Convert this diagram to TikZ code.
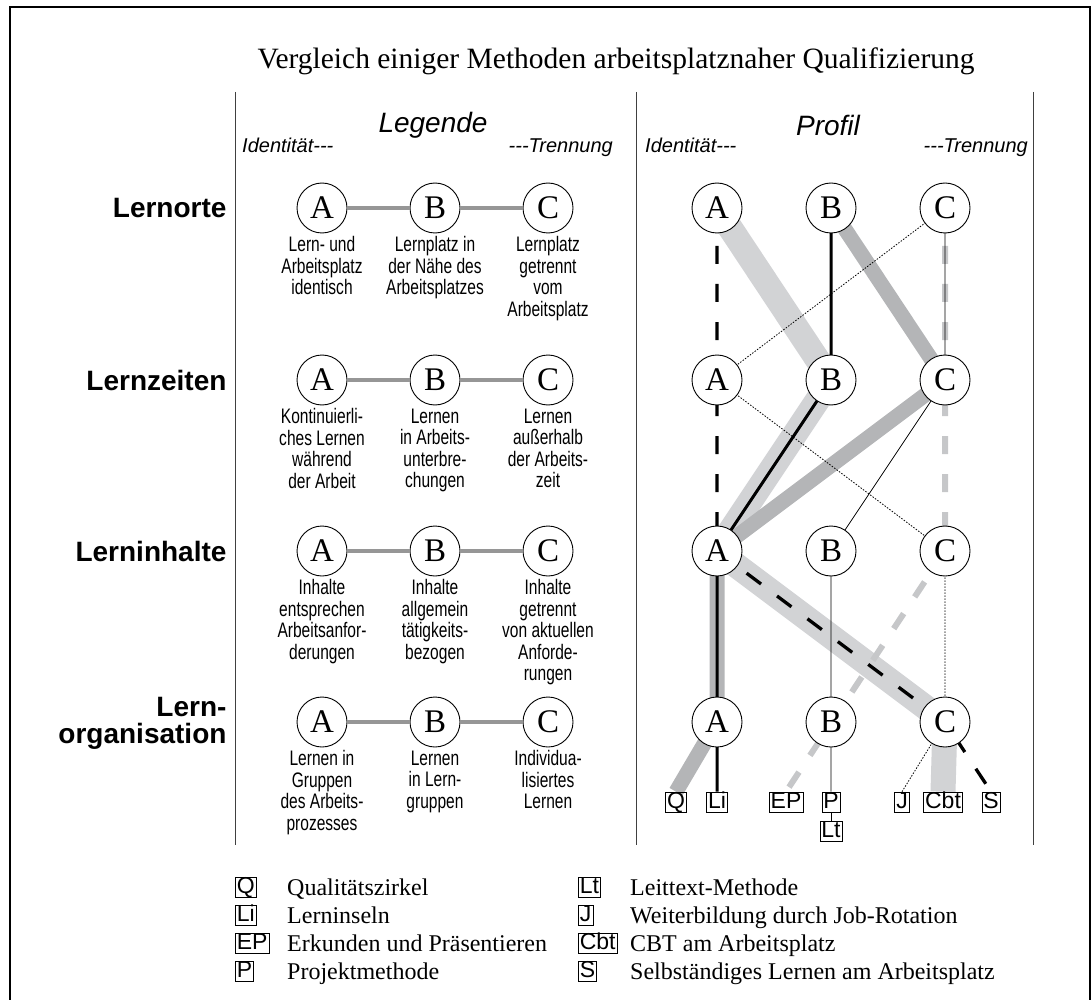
\documentclass[tikz,border=0pt]{standalone}
\usepackage{fontspec}
\setmainfont{Liberation Serif}
\setsansfont{Liberation Sans}
\newfontfamily\schmalsans[FakeStretch=0.74]{Liberation Sans}
\usepackage{tikz}
\usetikzlibrary{positioning}
\pgfdeclarelayer{hinten}
\pgfsetlayers{hinten,main}

\definecolor{hellband}{RGB}{210,211,213}
\definecolor{mittelband}{RGB}{180,181,183}
\definecolor{hellstrich}{RGB}{198,199,201}
\definecolor{legstrich}{RGB}{150,150,150}

\newcommand{\dreistrich}{-\kern0pt-\kern0pt-}

\tikzset{
	stufe/.style = {circle, draw, fill=white, minimum size=50pt, inner sep=0pt, line width=0.9pt, font=\fontsize{33}{33}\selectfont},
	beschr/.style = {align=center, inner sep=0pt, font=\schmalsans\fontsize{21}{21.5}\selectfont},
	zeile/.style = {anchor=east, align=right, font=\sffamily\bfseries\fontsize{28}{27}\selectfont},
	kopf/.style = {font=\sffamily\itshape\fontsize{28}{28}\selectfont},
	pol/.style = {font=\sffamily\itshape\fontsize{20}{20}\selectfont, inner sep=0pt},
	methode/.style = {draw, line width=0.6pt, inner sep=1.5pt, text height=15pt, text depth=2pt, font=\sffamily\fontsize{23}{23}\selectfont},
	erkl/.style = {anchor=base west, inner sep=0pt, font=\fontsize{24}{24}\selectfont},
	trenn/.style = {draw=black!75, line width=1pt}
}

\begin{document}
\begin{tikzpicture}[x=1pt, y=-1pt]
	\useasboundingbox (0,0) rectangle (1092,1000);
	\draw [line width=2.5pt] (10,1010) -- (10,7) -- (1090,7) -- (1090,1010);

	\node [font=\fontsize{29.5}{29.5}\selectfont] (titel) at (616,61) {Vergleich einiger Methoden arbeitsplatznaher Qualifizierung};

	\draw [trenn] (235,92) -- (235,845);
	\draw [trenn] (636,92) -- (636,845);
	\draw [trenn] (1033,92) -- (1033,845);

	% Kopfzeilen
	\node [kopf] (legende) at (433,125) {Legende};
	\node [pol, anchor=base west] (identL) at (242,153) {Identität\dreistrich};
	\node [pol, anchor=base east] (trennL) at (613,153) {\dreistrich Trennung};
	\node [kopf] (profil) at (828,125) {Profil};
	\node [pol, anchor=base west] (identP) at (645,153) {Identität\dreistrich};
	\node [pol, anchor=base east] (trennP) at (1028,153) {\dreistrich Trennung};

	\node [zeile] (orte) at (230,208) {Lernorte};
	\node [zeile] (zeiten) at (230,380) {Lernzeiten};
	\node [zeile] (inhalte) at (230,551) {Lerninhalte};
	\node [zeile] (organisation) at (230,723) {Lern-\\organisation};

	% Kreise
	\foreach \z/\y in {1/208, 2/380, 3/551, 4/722} {
		\foreach \s/\x in {A/322, B/435, C/548}
			\node [stufe] (l\s\z) at (\x,\y) {\s};
		\foreach \s/\x in {A/717, B/831, C/945}
			\node [stufe] (p\s\z) at (\x,\y) {\s};
		\draw [legstrich, line width=4pt] (lA\z) -- (lB\z);
		\draw [legstrich, line width=4pt] (lB\z) -- (lC\z);
	}

	\node [beschr, below=3pt of lA1] (dA1) {Lern- und\\Arbeitsplatz\\identisch};
	\node [beschr, below=3pt of lB1] (dB1) {Lernplatz in\\der Nähe des\\Arbeitsplatzes};
	\node [beschr, below=3pt of lC1] (dC1) {Lernplatz\\getrennt\\vom\\Arbeitsplatz};
	\node [beschr, below=3pt of lA2] (dA2) {Kontinuierli-\\ches Lernen\\während\\der Arbeit};
	\node [beschr, below=3pt of lB2] (dB2) {Lernen\\in Arbeits-\\unterbre-\\chungen};
	\node [beschr, below=3pt of lC2] (dC2) {Lernen\\außerhalb\\der Arbeits-\\zeit};
	\node [beschr, below=3pt of lA3] (dA3) {Inhalte\\entsprechen\\Arbeitsanfor-\\derungen};
	\node [beschr, below=3pt of lB3] (dB3) {Inhalte\\allgemein\\tätigkeits-\\bezogen};
	\node [beschr, below=3pt of lC3] (dC3) {Inhalte\\getrennt\\von aktuellen\\Anforde-\\rungen};
	\node [beschr, below=3pt of lA4] (dA4) {Lernen in\\Gruppen\\des Arbeits-\\prozesses};
	\node [beschr, below=3pt of lB4] (dB4) {Lernen\\in Lern-\\gruppen};
	\node [beschr, below=3pt of lC4] (dC4) {Individua-\\lisiertes\\Lernen};

	% Methoden im Profil
	\node [methode] (mQ) at (676,802) {Q};
	\node [methode] (mLi) at (717,802) {Li};
	\node [methode] (mEP) at (786,802) {EP};
	\node [methode] (mP) at (831,802) {P};
	\node [methode] (mLt) at (831,831) {Lt};
	\node [methode] (mJ) at (902,802) {J};
	\node [methode] (mCbt) at (943,802) {Cbt};
	\node [methode] (mS) at (991,802) {S};
	\draw [line width=0.8pt] (mP) -- (mLt);

	\begin{pgfonlayer}{hinten}
		\draw [hellband, line width=25pt, line join=round] (pA1.center) -- (pB2.center) -- (pA3.center) -- (pC4.center) -- (mCbt.north);
		\draw [mittelband, line width=15pt, line join=round] (pB1.center) -- (pC2.center) -- (pA3.center) -- (pA4.center) -- (mQ.north);
		\draw [hellstrich, line width=6pt, dash pattern=on 18pt off 20pt] (pC1.center) -- (pC2.center) -- (pC3.center) -- (mEP.north);
		\draw [line width=3pt, line join=round] (pB1.center) -- (pB2.center) -- (pA3.center) -- (pA4.center) -- (mLi.north);
		\draw [line width=3.3pt, dash pattern=on 18pt off 20pt] (pA1.center) -- (pA2.center) -- (pA3.center) -- (pC4.center) -- (mS.north);
		\draw [line width=0.8pt] (pC1.center) -- (pC2.center) -- (pB3.center) -- (pB4.center) -- (mP.north);
		\draw [line width=0.8pt, dash pattern=on 1.5pt off 1.5pt] (pC1.center) -- (pA2.center) -- (pC3.center) -- (pC4.center) -- (mJ.north);
	\end{pgfonlayer}

	% Erklaerung der Kuerzel
	\foreach \k/\t [count=\i] in {Q/Qualitätszirkel, Li/Lerninseln, EP/Erkunden und Präsentieren, P/Projektmethode} {
		\node [methode, anchor=west] (k\k) at (235,859+28*\i) {\k};
		\node [erkl] (t\k) at (287,867+28*\i) {\t};
	}
	\foreach \k/\t [count=\i] in {Lt/Leittext-Methode, J/Weiterbildung durch Job-Rotation, Cbt/CBT am Arbeitsplatz, S/Selbständiges Lernen am Arbeitsplatz} {
		\node [methode, anchor=west] (k\k) at (578,859+28*\i) {\k};
		\node [erkl] (t\k) at (630,867+28*\i) {\t};
	}
\end{tikzpicture}
\end{document}
